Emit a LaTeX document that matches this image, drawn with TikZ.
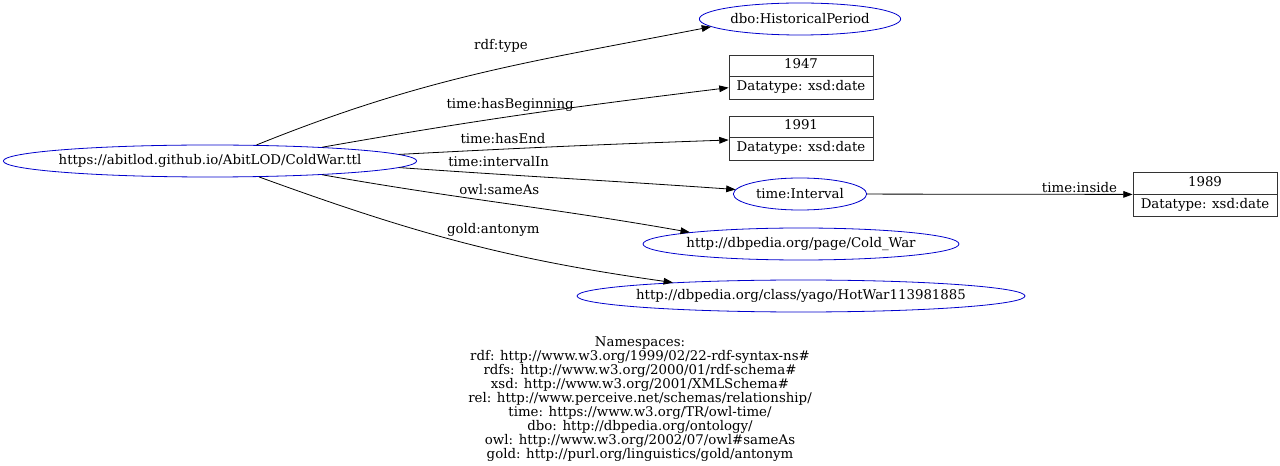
\documentclass[tikz,border=0pt]{standalone}
\usepackage{fontspec}
\setmainfont{DejaVu Serif}
\usetikzlibrary{arrows.meta,shapes.geometric,shapes.multipart}

\begin{document}
\begin{tikzpicture}[x=0.75pt, y=0.75pt, font=\fontsize{10}{10.5}\selectfont,
    >={Triangle[length=7pt, width=5pt]},
    res/.style={draw=blue!80!black, ellipse, inner xsep=-30pt, inner ysep=0pt, line width=0.6pt,
      minimum height=24pt},
    lit/.style={draw=black!80, rectangle split, rectangle split parts=2, minimum width=108pt,
      inner ysep=2.6pt, line width=0.6pt},
    lbl/.style={inner sep=1pt},
    rel/.style={->, line width=0.6pt}]
  \useasboundingbox (0,0) rectangle (1280,-466);

  % ---------------- subject ----------------
  \node[res, minimum width=310pt] (cw) at (210,-161) {https://abitlod.github.io/AbitLOD/ColdWar.ttl};

  % ---------------- objects ----------------
  \node[res, minimum width=151pt] (hp) at (800,-19) {dbo:HistoricalPeriod};
  \node[lit] (b47) at (801,-77) {1947\strut\nodepart{two}Datatype: xsd:date\strut};
  \node[lit] (b91) at (801,-138) {1991\strut\nodepart{two}Datatype: xsd:date\strut};
  \node[res, minimum width=100pt] (ti) at (800,-194) {time:Interval};
  \node[lit] (b89) at (1205,-194.5) {1989\strut\nodepart{two}Datatype: xsd:date\strut};
  \node[res, minimum width=237pt] (cwp) at (801,-244) {http://dbpedia.org/page/Cold\_War};
  \node[res, minimum width=336pt] (hw) at (801,-296) {http://dbpedia.org/class/yago/HotWar113981885};

  % ---------------- edges ----------------
  \draw[rel] (cw.19) to[out=22, in=191] node[lbl, pos=.55, above=11pt] (lType) {rdf:type} (hp.185);
  \draw[rel] (cw.7.8) to[out=10, in=187] node[lbl, pos=.46, above=2.5pt] (lBeg) {time:hasBeginning} ([yshift=-8pt]b47.west);
  \draw[rel] (cw.2.1) to[out=3, in=182] node[lbl, pos=.3, above=3pt] (lEnd) {time:hasEnd} ([yshift=-1.5pt]b91.west);
  \draw[rel] (cw.-2.3) to[out=-4, in=176] node[lbl, pos=.28, above=4.5pt] (lInt) {time:intervalIn} (ti.176);
  \draw[rel] (cw.-7.7) to[out=-10, in=170] node[lbl, pos=.48, above=4.5pt] (lSame) {owl:sameAs} (cwp.174);
  \draw[rel] (cw.-18.3) to[out=-20, in=172] node[lbl, pos=.58, above=9pt] (lAnt) {gold:antonym} (hw.174);
  \draw[rel] (ti) -- node[lbl, pos=.8, above=0pt] (lIns) {time:inside} (b89);

  % ---------------- namespaces ----------------
  \node[align=center, anchor=north] (ns) at (640,-332) {Namespaces:\\
    rdf: http://www.w3.org/1999/02/22-rdf-syntax-ns\#\\
    rdfs: http://www.w3.org/2000/01/rdf-schema\#\\
    xsd: http://www.w3.org/2001/XMLSchema\#\\
    rel: http://www.perceive.net/schemas/relationship/\\
    time: https://www.w3.org/TR/owl-time/\\
    dbo: http://dbpedia.org/ontology/\\
    owl: http://www.w3.org/2002/07/owl\#sameAs\\
    gold: http://purl.org/linguistics/gold/antonym};
\end{tikzpicture}
\end{document}
